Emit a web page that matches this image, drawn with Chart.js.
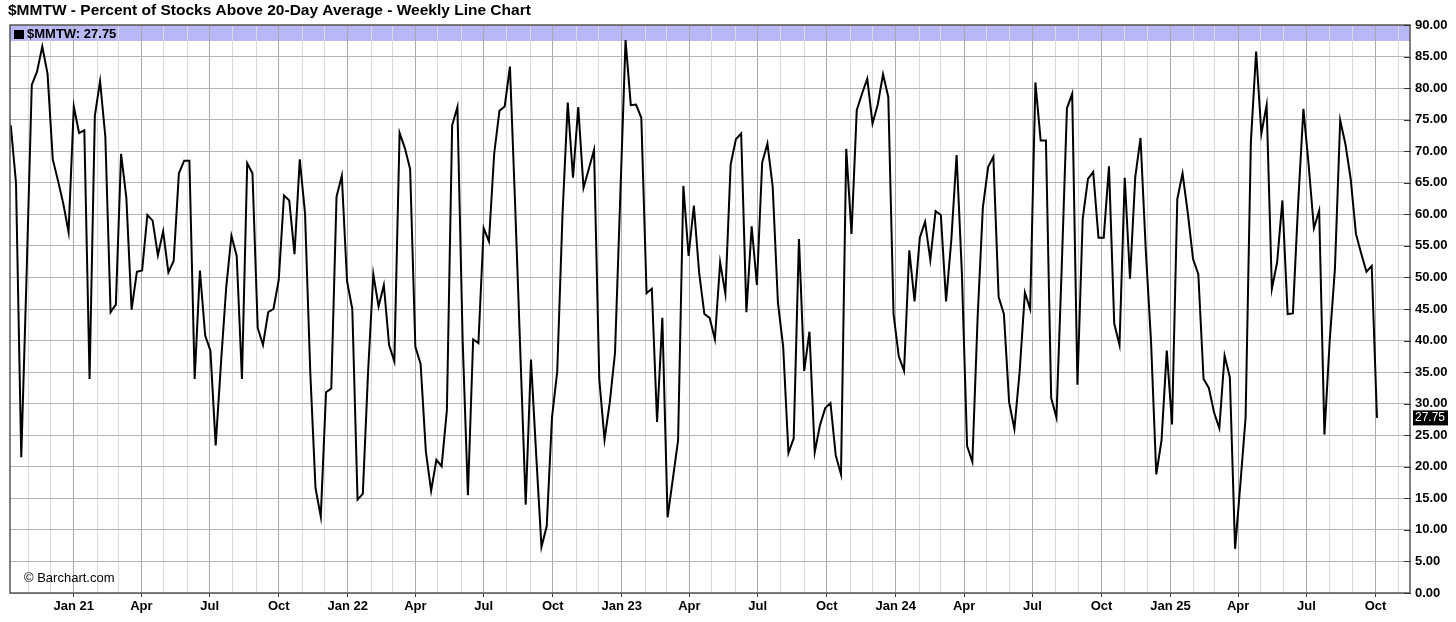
<!DOCTYPE html>
<html>
<head>
<meta charset="utf-8">
<script src="https://cdn.jsdelivr.net/npm/chart.js@4.4.1/dist/chart.umd.min.js"></script>
<style>
  html, body { margin: 0; padding: 0; background: #fff; }
  #wrap { width: 1456px; height: 622px; }
</style>
</head>
<body>
<div id="wrap"><canvas id="chart" width="1456" height="622"></canvas></div>
<script>
const TITLE = '$MMTW - Percent of Stocks Above 20-Day Average - Weekly Line Chart';
const SYMBOL = '$MMTW';
const WATERMARK = '\u00A9 Barchart.com';
const FIRST_WEEK = '2020-10-09';

// weekly closes (Oct 2020 -> Oct 2025)
const weeklyValues = [
  74.1, 65.0, 21.5, 50.0, 80.5, 82.6, 86.6, 82.3, 68.7, 65.3, 61.7, 57.2,
  77.1, 72.9, 73.3, 33.9, 75.6, 81.1, 72.3, 44.5, 45.7, 69.6, 62.6, 44.9,
  50.9, 51.1, 59.9, 59.0, 53.5, 57.3, 50.8, 52.6, 66.5, 68.5, 68.5, 33.9,
  51.1, 40.8, 38.4, 23.4, 36.3, 48.4, 56.6, 53.4, 33.9, 68.1, 66.5, 42.0,
  39.3, 44.5, 45.0, 49.6, 63.0, 62.2, 53.7, 68.7, 60.2, 35.0, 16.6, 12.1,
  31.8, 32.4, 62.8, 66.1, 49.4, 45.0, 14.8, 15.7, 35.0, 50.5, 45.4, 48.8,
  39.3, 36.7, 72.9, 70.5, 67.2, 39.0, 36.3, 22.4, 16.2, 21.1, 20.1, 29.0,
  74.1, 77.0, 40.0, 15.5, 40.2, 39.6, 57.8, 55.7, 69.6, 76.4, 77.1, 83.4,
  61.2, 37.6, 14.0, 37.0, 21.8, 7.3, 10.6, 27.8, 35.1, 59.9, 77.7, 65.8,
  77.0, 64.2, 67.2, 70.2, 33.9, 24.3, 30.2, 38.1, 62.9, 87.6, 77.3, 77.4,
  75.3, 47.5, 48.2, 27.1, 43.6, 12.0, 18.1, 24.2, 64.5, 53.4, 61.4, 50.8,
  44.2, 43.6, 40.2, 52.4, 47.4, 67.9, 71.9, 72.8, 44.5, 58.1, 48.8, 68.2,
  71.2, 64.4, 46.0, 39.0, 22.2, 24.5, 56.1, 35.2, 41.4, 22.3, 26.6, 29.3,
  30.1, 21.8, 18.8, 70.4, 56.9, 76.5, 79.1, 81.5, 74.4, 77.4, 82.2, 78.6,
  44.2, 37.5, 35.2, 54.3, 46.2, 56.3, 58.8, 52.8, 60.5, 59.9, 46.2, 56.0,
  69.4, 50.8, 23.3, 20.8, 43.6, 61.1, 67.5, 69.1, 46.9, 44.2, 30.2, 26.0,
  35.1, 47.6, 45.0, 80.9, 71.7, 71.7, 30.9, 27.8, 51.4, 76.8, 79.1, 33.0,
  59.3, 65.6, 66.7, 56.3, 56.3, 67.6, 42.7, 39.3, 65.8, 49.8, 65.9, 72.1,
  54.4, 39.9, 18.8, 24.2, 38.4, 26.7, 62.4, 66.5, 60.2, 52.9, 50.5, 33.9,
  32.5, 28.6, 26.1, 37.6, 34.2, 7.0, 17.2, 27.8, 71.4, 85.8, 72.8, 77.3,
  48.2, 52.4, 62.2, 44.2, 44.3, 61.7, 76.7, 67.8, 57.8, 60.6, 25.1, 39.9,
  51.4, 74.9, 71.1, 65.6, 56.9, 53.8, 50.9, 51.8, 27.75
];

const quarterNames = { 0: 'Jan', 3: 'Apr', 6: 'Jul', 9: 'Oct' };
const Y_MIN = 0;
const Y_MAX = 90;
const Y_STEP = 5;
const RIGHT_PAD_DAYS = 44;

const DAY_MS = 86400000;
const t0 = Date.parse(FIRST_WEEK + 'T00:00:00Z');
const points = weeklyValues.map((v, i) => ({ x: i * 7, y: v }));
const lastDay = (weeklyValues.length - 1) * 7;
const lastValue = weeklyValues[weeklyValues.length - 1];

// one gridline per month, labels on quarters
const months = [];
for (let yr = 2020; yr <= 2025; yr++) {
  for (let m = 0; m < 12; m++) {
    const d = (Date.UTC(yr, m, 1) - t0) / DAY_MS;
    if (d < 0 || d > lastDay + RIGHT_PAD_DAYS) continue;
    let label = '';
    if (m === 0) label = 'Jan ' + String(yr).slice(2);
    else if (quarterNames[m]) label = quarterNames[m];
    months.push({ value: d, label: label, quarter: m % 3 === 0 });
  }
}

const FONT = '"Liberation Sans", Arial, sans-serif';

const barchartLook = {
  id: 'barchartLook',
  beforeDraw(chart) {
    const { ctx, chartArea: a } = chart;
    ctx.save();
    ctx.fillStyle = '#fff';
    ctx.fillRect(0, 0, chart.width, chart.height);
    // legend band
    ctx.fillStyle = '#b8b8f7';
    ctx.fillRect(a.left, a.top, a.right - a.left, 16);
    ctx.restore();
  },
  afterDraw(chart) {
    const { ctx, chartArea: a } = chart;
    const yScale = chart.scales.y;
    ctx.save();

    // frame
    ctx.strokeStyle = '#555';
    ctx.lineWidth = 1.5;
    ctx.strokeRect(a.left, a.top, a.right - a.left, a.bottom - a.top);

    // y tick marks, inside the frame
    ctx.strokeStyle = '#333';
    ctx.lineWidth = 1;
    yScale.ticks.forEach(t => {
      const py = Math.round(yScale.getPixelForValue(t.value)) + 0.5;
      ctx.beginPath();
      ctx.moveTo(a.right - 6, py);
      ctx.lineTo(a.right + 1, py);
      ctx.stroke();
    });

    // title
    ctx.fillStyle = '#000';
    ctx.textBaseline = 'middle';
    ctx.font = 'bold 15.5px ' + FONT;
    ctx.fillText(TITLE, 8, 11);

    // legend
    ctx.fillRect(a.left + 4, a.top + 5, 10, 9);
    ctx.font = 'bold 13px ' + FONT;
    ctx.fillText(SYMBOL + ': ' + lastValue.toFixed(2), a.left + 17, a.top + 9);

    // watermark
    ctx.font = '13px ' + FONT;
    ctx.fillText(WATERMARK, 24, a.bottom - 15);

    // last value tag on the axis
    const yy = yScale.getPixelForValue(lastValue);
    ctx.fillStyle = '#000';
    ctx.fillRect(a.right + 3, yy - 7.5, 35, 15);
    ctx.fillStyle = '#fff';
    ctx.font = '12px ' + FONT;
    ctx.fillText(lastValue.toFixed(2), a.right + 5, yy);
    ctx.restore();
  }
};

new Chart(document.getElementById('chart'), {
  type: 'line',
  data: {
    datasets: [{
      label: SYMBOL,
      data: points,
      borderColor: '#000',
      borderWidth: 2,
      pointRadius: 0,
      tension: 0,
      fill: false
    }]
  },
  options: {
    responsive: false,
    animation: false,
    events: [],
    layout: { padding: { left: 10, right: 0, top: 25, bottom: 0 } },
    plugins: {
      legend: { display: false },
      title: { display: false },
      tooltip: { enabled: false }
    },
    scales: {
      x: {
        type: 'linear',
        min: -1,
        max: lastDay + RIGHT_PAD_DAYS,
        border: { display: false },
        afterBuildTicks(scale) {
          scale.ticks = months.map(m => ({ value: m.value }));
        },
        afterFit(scale) { scale.height = 29; },
        grid: {
          color: c => (months[c.index] && months[c.index].quarter) ? '#a9a9a9' : '#dadada',
          tickColor: c => (months[c.index] && months[c.index].quarter) ? '#333' : 'rgba(0,0,0,0)',
          tickLength: 4,
          lineWidth: 1
        },
        ticks: {
          autoSkip: false,
          maxRotation: 0,
          padding: 2,
          color: '#000',
          font: { family: FONT, size: 13, weight: 'bold' },
          callback: (v, i) => months[i] ? months[i].label : ''
        }
      },
      y: {
        position: 'right',
        min: Y_MIN,
        max: Y_MAX,
        border: { display: false },
        afterFit(scale) { scale.width = 46; },
        grid: {
          color: '#b5b5b5',
          drawTicks: false,
          lineWidth: 1
        },
        ticks: {
          stepSize: Y_STEP,
          padding: 5,
          color: '#000',
          font: { family: FONT, size: 13, weight: 'bold' },
          callback: v => v.toFixed(2)
        }
      }
    }
  },
  plugins: [barchartLook]
});
</script>
</body>
</html>
